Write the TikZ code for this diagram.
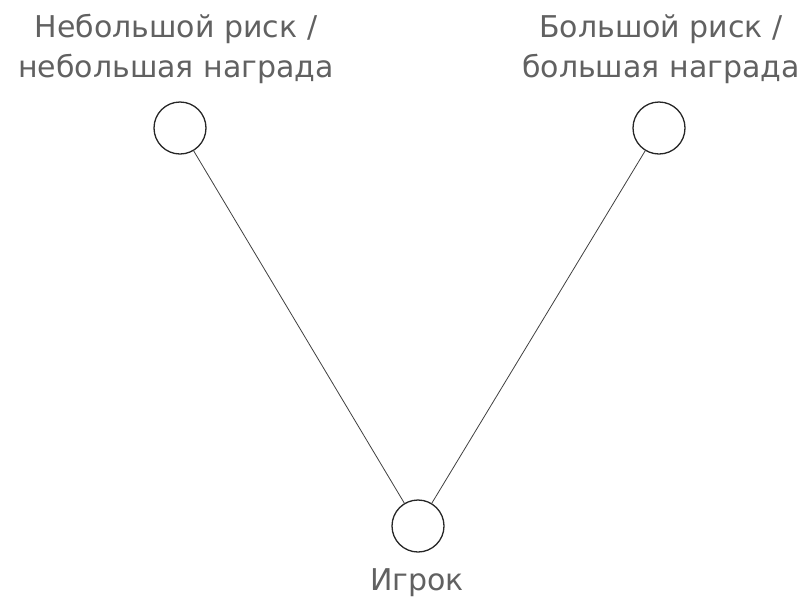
\documentclass[tikz,border=0pt]{standalone}
\usepackage{fontspec}
\setmainfont{DejaVu Sans}
\begin{document}
\begin{tikzpicture}[x=1pt,y=-1pt,
  option/.style={circle,draw=black!85,line width=1.3pt,minimum size=52pt,inner sep=0pt},
  caption/.style={text=black!62,font=\fontsize{30}{40}\selectfont,align=center,inner sep=0pt},
  link/.style={draw=black!75,line width=0.8pt}]
  \useasboundingbox (0,0) rectangle (808,606);
  % choices and the player
  \node[option] (safe)   at (180,128) {};
  \node[option] (risky)  at (659,128) {};
  \node[option] (player) at (418,526) {};
  % captions (base anchor sits on the last line)
  \node[caption,anchor=base] (safetxt) at (176,77) {Небольшой риск /\\небольшая награда};
  \node[caption,anchor=base] (riskytxt) at (661,77) {Большой риск /\\большая награда};
  \node[caption,anchor=base] (playertxt) at (417,590) {Игрок};
  % connectors
  \draw[link] (safe) -- (player);
  \draw[link] (risky) -- (player);
\end{tikzpicture}
\end{document}
